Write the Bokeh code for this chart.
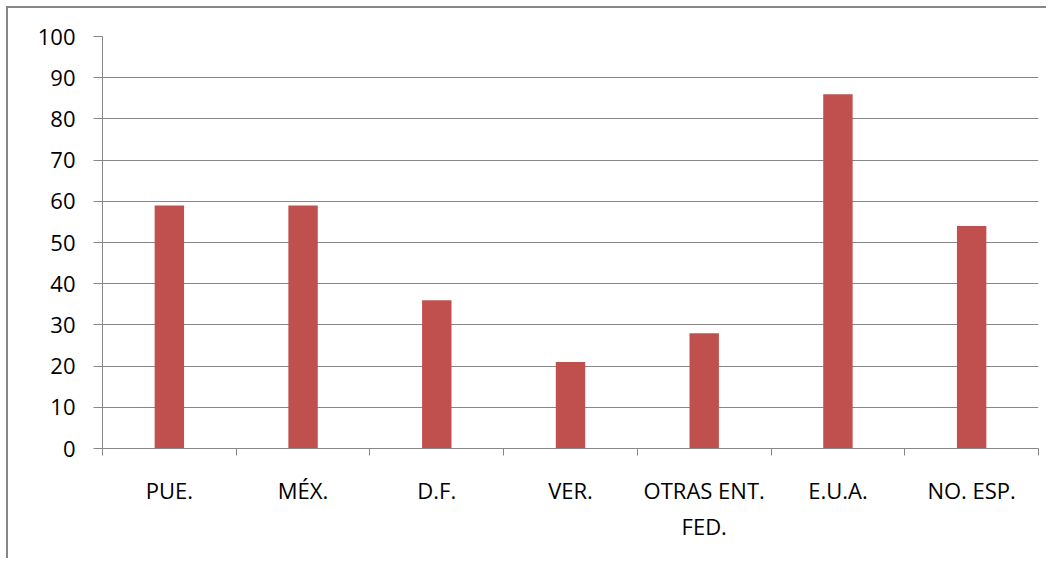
from bokeh.plotting import figure
from bokeh.models import Range1d, FixedTicker, ColumnDataSource
from bokeh.embed import file_html
from bokeh.resources import INLINE

categories = ["PUE.", "MÉX.", "D.F.", "VER.", "OTRAS ENT.\nFED.", "E.U.A.", "NO. ESP."]
values = [59, 59, 36, 21, 28, 86, 54]
y_ticks = list(range(0, 101, 10))

n = len(categories)
centers = [i + 0.5 for i in range(n)]
bounds = list(range(n + 1))

src = ColumnDataSource(data=dict(x=centers, top=values, cat=categories))

FONT = "Open Sans"
GRAY = "#878787"

p = figure(width=1040, height=552, x_range=Range1d(0, n), y_range=Range1d(0, 100),
           output_backend="svg", toolbar_location=None,
           min_border_left=94, min_border_top=28, min_border_right=10, min_border_bottom=112)
p.styles = {"border-left": "2px solid #878787", "border-top": "2px solid #878787",
            "margin-left": "6px", "margin-top": "6px"}
p.outline_line_color = None
p.background_fill_color = "white"
p.border_fill_color = "white"

p.vbar(x="x", top="top", width=0.22, source=src, fill_color="#C0504D", line_color=None)

p.xgrid.visible = False
p.ygrid.ticker = FixedTicker(ticks=y_ticks)
p.ygrid.grid_line_color = GRAY
p.ygrid.grid_line_width = 1

ya = p.yaxis[0]
ya.ticker = FixedTicker(ticks=y_ticks)
ya.axis_line_color = GRAY
ya.major_tick_line_color = GRAY
ya.major_tick_out = 9
ya.major_tick_in = 0
ya.minor_tick_line_color = None
ya.major_label_text_font = FONT
ya.major_label_text_font_size = "22px"
ya.major_label_text_color = "black"
ya.major_label_standoff = 18

xa = p.xaxis[0]
xa.ticker = FixedTicker(ticks=centers, minor_ticks=bounds)
xa.major_label_overrides = {c: lab for c, lab in zip(centers, categories)}
xa.axis_line_color = GRAY
xa.major_tick_line_color = None
xa.minor_tick_line_color = GRAY
xa.minor_tick_out = 7
xa.minor_tick_in = 0
xa.major_tick_out = 7
xa.major_tick_in = 0
xa.major_label_text_font = FONT
xa.major_label_text_font_size = "22px"
xa.major_label_text_color = "black"
xa.major_label_text_line_height = 1.2
xa.major_label_standoff = 19

open("out.html", "w").write(file_html(p, INLINE))
